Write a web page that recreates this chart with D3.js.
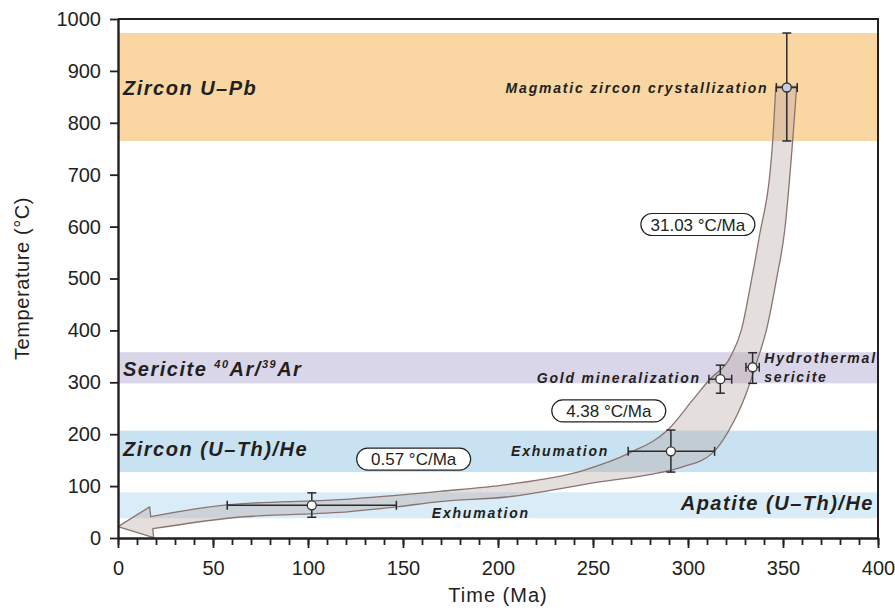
<!DOCTYPE html>
<html lang="en">
<head>
    <meta charset="UTF-8">
    <title>T-t path</title>
    <script src="https://d3js.org/d3.v7.min.js"></script>
    <style>
        body {
            margin: 0;
            padding: 0;
            background: #fff;
            font-family: Arial, 'Liberation Sans', sans-serif;
        }
        .tick text {
            font-size: 20px;
            fill: #231f20;
        }
        .band-label {
            font-size: 20px;
            font-weight: bold;
            font-style: italic;
            letter-spacing: 1.5px;
            fill: #231f20;
        }
        .point-label {
            font-size: 14px;
            font-weight: bold;
            font-style: italic;
            letter-spacing: 1.8px;
            fill: #231f20;
        }
        .rate-label {
            font-size: 17px;
            fill: #231f20;
        }
        .axis-title {
            font-size: 20px;
            fill: #231f20;
        }
    </style>
</head>
<body>
    <div id="chart"></div>

    <script>
        // closure temperature windows (°C)
        const bandNames = ["Zircon U–Pb", "Sericite 40Ar/39Ar", "Zircon (U–Th)/He", "Apatite (U–Th)/He"];
        const bandLow = [765, 298, 127, 38];
        const bandHigh = [973, 358, 207, 88];
        const bandColors = ["#f9d6a2", "#dad6e9", "#c8e2f2", "#d9ecf7"];

        // dated samples: age (Ma) and temperature (°C) with error ranges
        const pointNames = ["Magmatic zircon crystallization", "Hydrothermal sericite", "Gold mineralization", "Exhumation", "Exhumation"];
        const pointAge = [352, 334, 317, 291, 102];
        const ageMin = [346.5, 330.5, 311, 268.5, 57.5];
        const ageMax = [357.5, 337.5, 323, 314, 146.5];
        const pointTemp = [868, 329, 306, 167, 63];
        const tempMin = [765, 298, 279, 127, 40];
        const tempMax = [973, 357, 333, 208, 87];

        // cooling path envelope (Ma, °C)
        const upperAge = [346.2, 344.6, 337.2, 333.4, 328.1, 322.5, 311, 302.5, 289.3, 269.3, 244.6, 204.6, 169.3, 116.7, 57.3, 17.2];
        const upperTemp = [870, 766, 574, 497, 401, 350, 304, 266, 208, 164, 130, 103, 90, 74, 64, 41];
        const lowerAge = [357.2, 355.1, 350.9, 346.5, 341.3, 336, 330.4, 321, 313, 297.2, 279.8, 253.5, 204.6, 169.3, 146.6, 121.9, 60.4, 18.3];
        const lowerTemp = [870, 766, 593, 497, 401, 337, 276, 204, 164, 137, 122, 108, 79, 70, 60, 51, 39, 18];
        const headAge = [16.7, 0, 18.8];
        const headTemp = [60, 22, 0.5];

        // cooling rates
        const rateLabels = ["31.03 °C/Ma", "4.38 °C/Ma", "0.57 °C/Ma"];
        const rateAge = [305.2, 258.3, 155.6];
        const rateTemp = [604, 245, 152];

        const xTicks = d3.range(0, 401, 50);
        const xMinorTicks = d3.range(0, 401, 10);
        const yTicks = d3.range(0, 1001, 100);

        const width = 895, height = 614;
        const margin = { top: 19, right: 17, bottom: 76, left: 118 };

        const svg = d3.select("#chart")
            .append("svg")
            .attr("width", width)
            .attr("height", height);

        const x = d3.scaleLinear().domain([0, 400]).range([margin.left, width - margin.right]);
        const y = d3.scaleLinear().domain([0, 1000]).range([height - margin.bottom, margin.top]);

        // bands
        svg.selectAll("rect.band")
            .data(bandNames)
            .join("rect")
            .attr("class", "band")
            .attr("x", x(0))
            .attr("width", x(400) - x(0))
            .attr("y", (d, i) => y(bandHigh[i]))
            .attr("height", (d, i) => y(bandLow[i]) - y(bandHigh[i]))
            .attr("fill", (d, i) => bandColors[i]);

        // cooling path arrow
        const line = d3.line()
            .x(d => x(d[0]))
            .y(d => y(d[1]))
            .curve(d3.curveMonotoneX);

        const upper = d3.zip(upperAge, upperTemp);
        const lower = d3.zip(lowerAge, lowerTemp).reverse();
        const head = d3.zip(headAge, headTemp);

        const arrowPath = line(upper)
            + head.map(p => "L" + x(p[0]) + "," + y(p[1])).join("")
            + line(lower).replace("M", "L")
            + "Z";

        svg.append("path")
            .attr("d", arrowPath)
            .attr("fill", "#b8a9a6")
            .attr("fill-opacity", 0.38)
            .attr("stroke", "#8a7471")
            .attr("stroke-width", 1.3)
            .attr("stroke-linejoin", "round");

        // error bars
        const eb = svg.append("g")
            .attr("stroke", "#2b2b2b")
            .attr("stroke-width", 1.5);
        const cap = 4.5;

        pointNames.forEach((name, i) => {
            const cx = x(pointAge[i]), cy = y(pointTemp[i]);
            eb.append("line").attr("x1", cx).attr("x2", cx).attr("y1", y(tempMin[i])).attr("y2", y(tempMax[i]));
            eb.append("line").attr("x1", cx - cap).attr("x2", cx + cap).attr("y1", y(tempMin[i])).attr("y2", y(tempMin[i]));
            eb.append("line").attr("x1", cx - cap).attr("x2", cx + cap).attr("y1", y(tempMax[i])).attr("y2", y(tempMax[i]));
            eb.append("line").attr("x1", x(ageMin[i])).attr("x2", x(ageMax[i])).attr("y1", cy).attr("y2", cy);
            eb.append("line").attr("x1", x(ageMin[i])).attr("x2", x(ageMin[i])).attr("y1", cy - cap).attr("y2", cy + cap);
            eb.append("line").attr("x1", x(ageMax[i])).attr("x2", x(ageMax[i])).attr("y1", cy - cap).attr("y2", cy + cap);
        });

        svg.selectAll("circle.pt")
            .data(pointNames)
            .join("circle")
            .attr("class", "pt")
            .attr("cx", (d, i) => x(pointAge[i]))
            .attr("cy", (d, i) => y(pointTemp[i]))
            .attr("r", 4.5)
            .attr("fill", (d, i) => i === 0 ? "#c6cbe0" : "#fff")
            .attr("stroke", "#333")
            .attr("stroke-width", 1.3);

        // band labels
        const bl = svg.append("g");
        bl.append("text").attr("class", "band-label").attr("x", x(0) + 5).attr("y", y(bandLow[0]) - 46).text(bandNames[0]);
        const ser = bl.append("text").attr("class", "band-label").attr("x", x(0) + 5).attr("y", y(bandLow[1]) - 7);
        ser.append("tspan").text("Sericite ");
        ser.append("tspan").attr("font-size", 11).attr("dy", -8).text("40");
        ser.append("tspan").attr("dy", 8).text("Ar/");
        ser.append("tspan").attr("font-size", 11).attr("dy", -8).text("39");
        ser.append("tspan").attr("dy", 8).text("Ar");
        bl.append("text").attr("class", "band-label").attr("x", x(0) + 5).attr("y", y(bandLow[2]) - 16).text(bandNames[2]);
        bl.append("text").attr("class", "band-label").attr("x", x(400) - 4).attr("y", y(bandLow[3]) - 8)
            .attr("text-anchor", "end").text(bandNames[3]);

        // point labels
        svg.append("text").attr("class", "point-label").attr("text-anchor", "end")
            .attr("x", x(ageMin[0]) - 8).attr("y", y(pointTemp[0]) + 5).text(pointNames[0]);
        const hyd = svg.append("text").attr("class", "point-label")
            .attr("x", x(ageMax[1]) + 5).attr("y", y(pointTemp[1]) - 4);
        hyd.append("tspan").text("Hydrothermal");
        hyd.append("tspan").attr("x", x(ageMax[1]) + 5).attr("dy", 19).text("sericite");
        svg.append("text").attr("class", "point-label").attr("text-anchor", "end")
            .attr("x", x(ageMin[2]) - 8).attr("y", y(pointTemp[2]) + 4).text(pointNames[2]);
        svg.append("text").attr("class", "point-label").attr("text-anchor", "end")
            .attr("x", x(ageMin[3]) - 19).attr("y", y(pointTemp[3]) + 5).text(pointNames[3]);
        svg.append("text").attr("class", "point-label")
            .attr("x", x(pointAge[4]) + 120).attr("y", y(pointTemp[4]) + 13).text(pointNames[4]);

        // cooling rate labels
        const rates = svg.selectAll("g.rate")
            .data(rateLabels)
            .join("g")
            .attr("class", "rate")
            .attr("transform", (d, i) => `translate(${x(rateAge[i])},${y(rateTemp[i])})`);

        rates.append("rect")
            .attr("x", -57).attr("y", -11)
            .attr("width", 114).attr("height", 22)
            .attr("rx", 11)
            .attr("fill", "#fff")
            .attr("stroke", "#231f20")
            .attr("stroke-width", 1.2);

        rates.append("text")
            .attr("class", "rate-label")
            .attr("text-anchor", "middle")
            .attr("dy", "0.36em")
            .text(d => d);

        // axes
        const xAxis = svg.append("g")
            .attr("transform", `translate(0,${y(0)})`)
            .call(d3.axisBottom(x).tickValues(xTicks).tickSize(10).tickSizeOuter(0).tickPadding(13));
        svg.append("g")
            .attr("transform", `translate(0,${y(0)})`)
            .call(d3.axisBottom(x).tickValues(xMinorTicks).tickSize(7).tickSizeOuter(0).tickFormat(""))
            .select(".domain").remove();

        const yAxis = svg.append("g")
            .attr("transform", `translate(${x(0)},0)`)
            .call(d3.axisLeft(y).tickValues(yTicks).tickFormat(d3.format("d")).tickSize(8).tickSizeOuter(0).tickPadding(9));

        svg.selectAll(".tick line").attr("stroke", "#231f20").attr("stroke-width", 1.8);
        xAxis.select(".domain").attr("stroke", "#231f20").attr("stroke-width", 2.4);
        yAxis.select(".domain").attr("stroke", "#231f20").attr("stroke-width", 2.4);
        svg.selectAll(".tick text").attr("font-family", null).attr("font-size", null);

        // top and right frame
        svg.append("path")
            .attr("d", `M${x(0)},${y(1000)}H${x(400)}V${y(0)}`)
            .attr("fill", "none")
            .attr("stroke", "#231f20")
            .attr("stroke-width", 2);

        // axis titles
        svg.append("text")
            .attr("class", "axis-title")
            .attr("text-anchor", "middle")
            .attr("letter-spacing", 1)
            .attr("x", (x(0) + x(400)) / 2)
            .attr("y", 602)
            .text("Time (Ma)");

        svg.append("text")
            .attr("class", "axis-title")
            .attr("text-anchor", "middle")
            .attr("letter-spacing", 0.6)
            .attr("transform", `translate(29,${(y(0) + y(1000)) / 2}) rotate(-90)`)
            .text("Temperature (°C)");
    </script>
</body>
</html>
